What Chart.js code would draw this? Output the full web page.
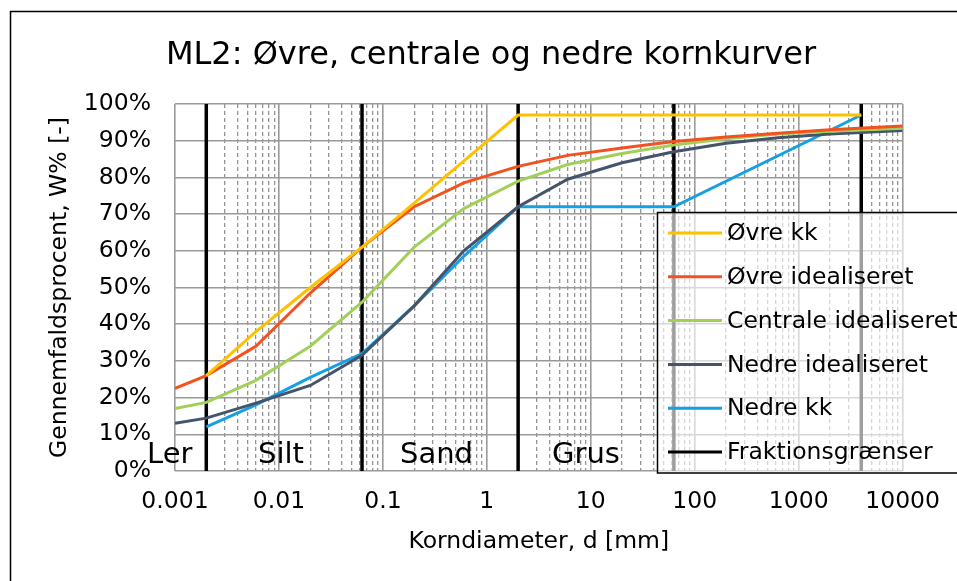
<!DOCTYPE html>
<html>
<head>
<meta charset="utf-8">
<script src="https://cdn.jsdelivr.net/npm/chart.js@4/dist/chart.umd.min.js"></script>
<style>
  html, body { margin: 0; padding: 0; background: #fff; }
  #wrap { width: 957px; height: 581px; }
</style>
</head>
<body>
<div id="wrap"><canvas id="kornkurve"></canvas></div>
<script>
// Kornstørrelser [mm] og gennemfald [%]
const ovreKkD = [0.002, 0.006, 0.02, 0.063, 0.2, 0.63, 2, 63, 4000];
const ovreKkW = [26, 38, 50, 61, 73, 85, 97, 97, 97];

const idealD = [0.001, 0.002, 0.006, 0.02, 0.063, 0.2, 0.6, 2, 6, 20, 63, 200, 630, 2000, 10000];
const ovreIdW = [22.5, 26, 34, 48.5, 61, 72, 78.5, 83, 86, 88, 89.8, 91, 92, 93, 94];
const centralIdW = [17, 18.7, 24.7, 34, 46, 61, 71.5, 79, 83.5, 86.5, 88.8, 90.5, 91.8, 92.6, 93.4];
const nedreIdW = [13, 14.4, 18.5, 23.3, 31.5, 45, 60, 72, 79.5, 84, 87, 89.3, 90.8, 91.8, 92.8];

const nedreKkD = [0.002, 0.006, 0.02, 0.063, 0.2, 0.6, 2, 63, 4000];
const nedreKkW = [12, 18, 25.5, 32, 45, 58.5, 72, 72, 97];

// Fraktionsgrænser [mm]
const graenser = [0.002, 0.063, 2, 63, 4000];
const fraktioner = ['Ler', 'Silt', 'Sand', 'Grus'];

const xTicks = [];
for (let e = -3; e <= 3; e++) {
    for (let m = 1; m <= 9; m++) xTicks.push(Number((m * Math.pow(10, e)).toPrecision(3)));
}
xTicks.push(10000);

function pts(xs, ys) {
    return xs.map((x, i) => ({ x: x, y: ys[i] }));
}

const graenseData = [];
graenser.forEach(g => {
    graenseData.push({ x: g, y: 0 }, { x: g, y: 100 }, { x: g, y: null });
});

const FONT = 'DejaVu Sans, Verdana, sans-serif';

function isMajor(v) {
    const l = Math.log10(v);
    return Math.abs(l - Math.round(l)) < 1e-6;
}

const baggrund = {
    id: 'baggrund',
    beforeDraw(chart) {
        const ctx = chart.ctx;
        ctx.save();
        ctx.fillStyle = '#fff';
        ctx.fillRect(0, 0, chart.width, chart.height);
        ctx.strokeStyle = '#000';
        ctx.lineWidth = 1.5;
        ctx.strokeRect(10.5, 11.5, 1000, 700);
        ctx.fillStyle = '#000';
        ctx.font = '32px ' + FONT;
        ctx.textAlign = 'center';
        ctx.textBaseline = 'alphabetic';
        ctx.fillText('ML2: Øvre, centrale og nedre kornkurver', 491, 64);
        ctx.restore();
    },
    afterDatasetsDraw(chart) {
        const ctx = chart.ctx;
        ctx.save();
        ctx.fillStyle = '#000';
        ctx.font = '29px ' + FONT;
        ctx.textBaseline = 'alphabetic';
        const lefts = [147, 258, 400, 552];
        fraktioner.forEach((t, i) => ctx.fillText(t, lefts[i], 463));
        ctx.restore();
    },
    afterDraw(chart) {
        const ctx = chart.ctx;
        ctx.save();
        ctx.fillStyle = 'rgba(255,255,255,0.62)';
        ctx.fillRect(657, 213, 400, 260);
        ctx.strokeStyle = '#000';
        ctx.lineWidth = 1.5;
        ctx.strokeRect(657.5, 212.5, 400, 260.5);
        ctx.font = '23.5px ' + FONT;
        ctx.textBaseline = 'middle';
        ctx.textAlign = 'left';
        chart.data.datasets.forEach((ds, i) => {
            const y = 233 + i * 43.8;
            ctx.strokeStyle = ds.borderColor;
            ctx.lineWidth = 3;
            ctx.beginPath();
            ctx.moveTo(668, y);
            ctx.lineTo(722, y);
            ctx.stroke();
            ctx.fillStyle = '#000';
            ctx.fillText(ds.label, 727, y + 1);
        });
        ctx.restore();
    }
};

new Chart(document.getElementById('kornkurve'), {
    type: 'line',
    data: {
        datasets: [
            { label: 'Øvre kk', data: pts(ovreKkD, ovreKkW), borderColor: '#FFC000' },
            { label: 'Øvre idealiseret', data: pts(idealD, ovreIdW), borderColor: '#F4511E' },
            { label: 'Centrale idealiseret', data: pts(idealD, centralIdW), borderColor: '#A2CF5A' },
            { label: 'Nedre idealiseret', data: pts(idealD, nedreIdW), borderColor: '#44546A' },
            { label: 'Nedre kk', data: pts(nedreKkD, nedreKkW), borderColor: '#14A0E2' },
            { label: 'Fraktionsgrænser', data: graenseData, borderColor: '#000000', borderWidth: 3.5, spanGaps: false }
        ]
    },
    options: {
        responsive: true,
        maintainAspectRatio: false,
        animation: false,
        events: [],
        layout: { padding: { top: 104, right: 54, left: 0, bottom: 0 } },
        elements: {
            point: { radius: 0 },
            line: { borderWidth: 3, tension: 0, fill: false }
        },
        plugins: {
            legend: { display: false },
            title: { display: false },
            tooltip: { enabled: false }
        },
        scales: {
            x: {
                type: 'logarithmic',
                min: 0.001,
                max: 10000,
                afterFit: s => { s.height = 110; },
                afterBuildTicks: s => {
                    s.ticks = xTicks.map(v => ({ value: v, major: isMajor(v) }));
                },
                ticks: {
                    autoSkip: false,
                    maxRotation: 0,
                    padding: 17,
                    color: '#000',
                    font: { family: FONT, size: 23.5 },
                    callback: v => isMajor(v) ? String(v) : ''
                },
                grid: {
                    drawTicks: false,
                    color: c => (c.tick && c.tick.major) ? '#9A9A9A' : '#939393',
                    lineWidth: c => (c.tick && c.tick.major) ? 1.6 : 1.3
                },
                border: {
                    display: false,
                    dash: c => (c.tick && !c.tick.major) ? [4, 3] : []
                },
                title: {
                    display: true,
                    text: 'Korndiameter, d [mm]',
                    color: '#000',
                    font: { family: FONT, size: 23.5 },
                    padding: { top: 0, bottom: 25 }
                }
            },
            y: {
                min: 0,
                max: 100,
                afterFit: s => { s.width = 175; },
                ticks: {
                    stepSize: 10,
                    padding: 24,
                    color: '#000',
                    font: { family: FONT, size: 23.5 },
                    callback: v => v + '%'
                },
                grid: { drawTicks: false, color: '#9A9A9A', lineWidth: 1.6 },
                border: { display: false },
                title: {
                    display: true,
                    text: 'Gennemfaldsprocent, W% [-]',
                    color: '#000',
                    font: { family: FONT, size: 23.5 },
                    padding: { top: 46, bottom: 0 }
                }
            }
        }
    },
    plugins: [baggrund]
});
</script>
</body>
</html>
